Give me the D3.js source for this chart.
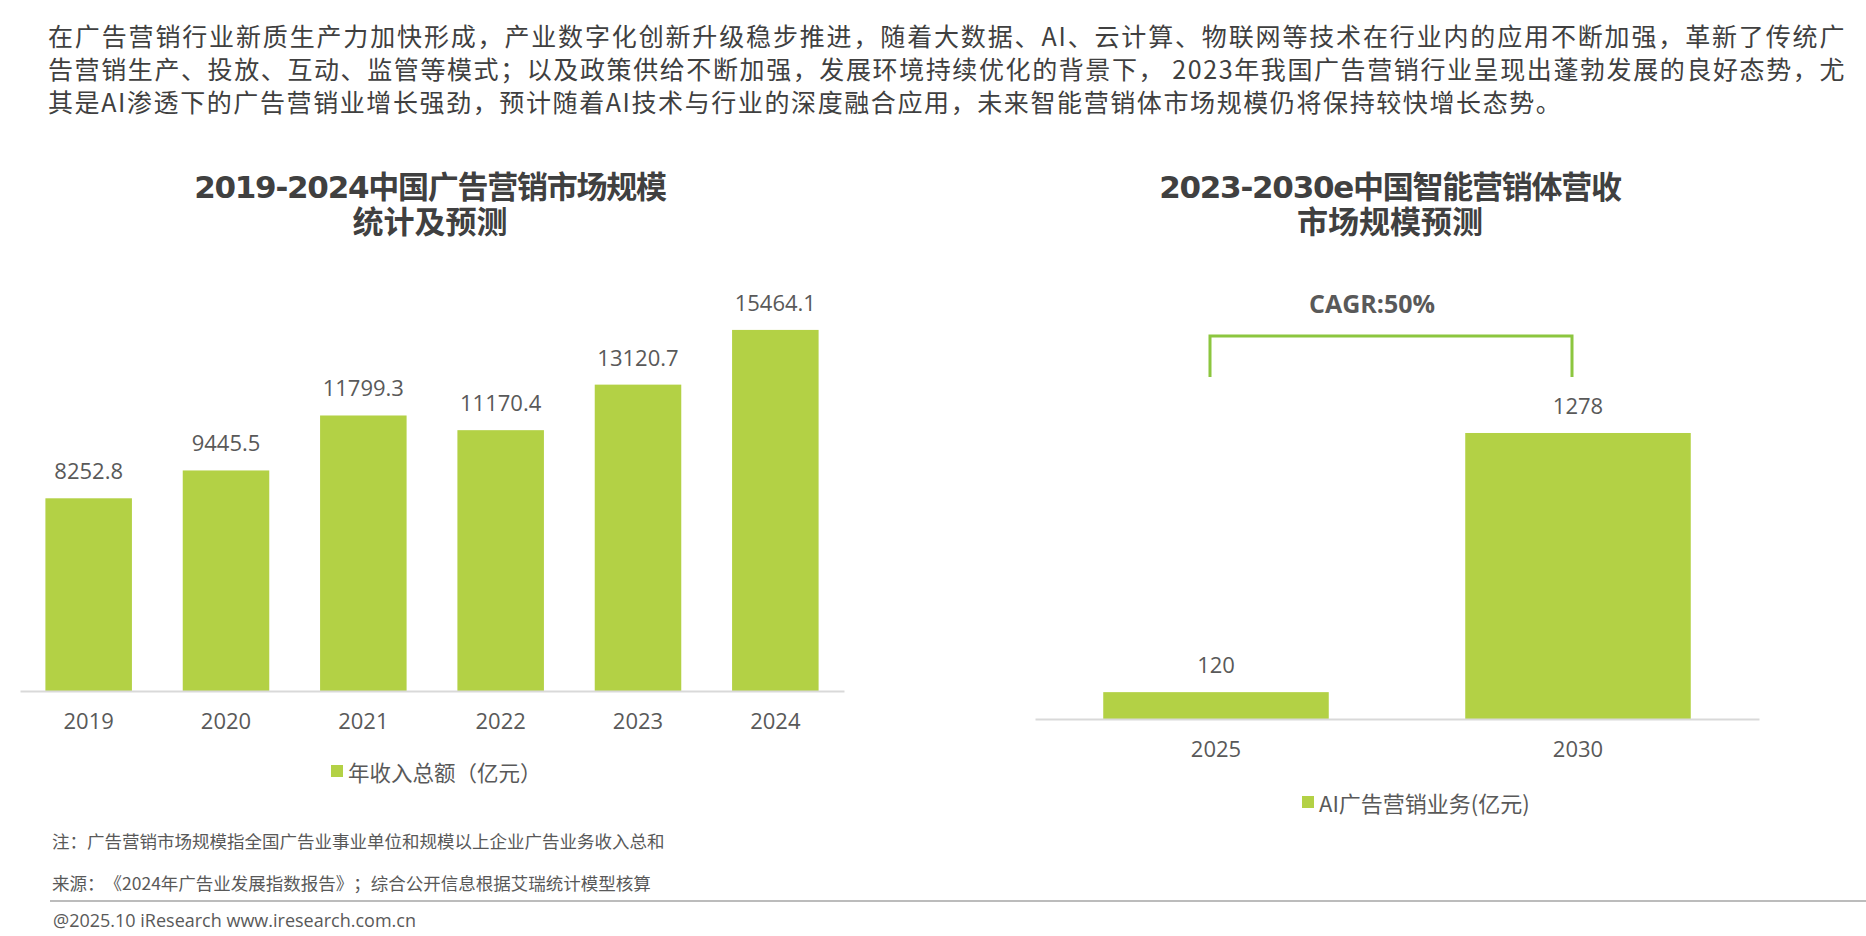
<!DOCTYPE html>
<html>
<head>
<meta charset="utf-8">
<script src="https://cdn.jsdelivr.net/npm/d3@7"></script>
<style>
  body { margin: 0; background: #fff; }
  svg { display: block; text-spacing-trim: space-all; }
</style>
</head>
<body>
<svg id="chart" width="1866" height="936"></svg>
<script>
// ---- data ----
const introLines = [
  "在广告营销行业新质生产力加快形成，产业数字化创新升级稳步推进，随着大数据、AI、云计算、物联网等技术在行业内的应用不断加强，革新了传统广",
  "告营销生产、投放、互动、监管等模式；以及政策供给不断加强，发展环境持续优化的背景下， 2023年我国广告营销行业呈现出蓬勃发展的良好态势，尤",
  "其是AI渗透下的广告营销业增长强劲，预计随着AI技术与行业的深度融合应用，未来智能营销体市场规模仍将保持较快增长态势。"
];
const marketTitle = ["2019-2024中国广告营销市场规模", "统计及预测"];
const marketYears = ["2019", "2020", "2021", "2022", "2023", "2024"];
const marketValues = [8252.8, 9445.5, 11799.3, 11170.4, 13120.7, 15464.1];
const marketLegend = "年收入总额（亿元）";

const aiTitle = ["2023-2030e中国智能营销体营收", "市场规模预测"];
const aiYears = ["2025", "2030"];
const aiValues = [120, 1278];
const aiLegend = "AI广告营销业务(亿元)";
const cagrLabel = "CAGR:50%";

const footNotes = [
  "注：广告营销市场规模指全国广告业事业单位和规模以上企业广告业务收入总和",
  "来源：《2024年广告业发展指数报告》；综合公开信息根据艾瑞统计模型核算"
];
const copyright = "@2025.10 iResearch www.iresearch.com.cn";

// ---- styles ----
const barColor = "#b3d145",
  bracketColor = "#8cc63f",
  axisColor = "#d9d9d9",
  titleColor = "#404040",
  labelColor = "#595959";
const cjk = "'Noto Sans CJK SC', sans-serif",
  num = "'Open Sans', 'Noto Sans CJK SC', sans-serif",
  titleFont = "'DejaVu Sans', 'Noto Sans CJK SC', sans-serif";

const svg = d3.select("#chart");

// intro paragraph, justified like the slide text box (last line left ragged)
const paraLeft = 48, paraRight = 1846;
svg.append("g")
  .selectAll("text")
  .data(introLines)
  .enter()
  .append("text")
  .attr("x", paraLeft)
  .attr("y", (d, i) => 35 + i * 33)
  .attr("dominant-baseline", "central")
  .attr("textLength", (d, i) => (i < introLines.length - 1 ? paraRight - paraLeft : null))
  .attr("lengthAdjust", "spacing")
  .style("font-family", cjk)
  .style("font-size", "25px")
  .style("letter-spacing", "1.6px")
  .style("fill", titleColor)
  .text((d) => d);

function drawPanel(opts) {
  const { years, values, title, titleX, legend, legendX, legendY, legendSize,
    left, right, base, yMax, top } = opts;

  const x = d3.scaleBand()
    .domain(years)
    .range([left, right])
    .paddingInner(opts.pad)
    .paddingOuter(opts.pad / 2);

  const y = d3.scaleLinear().domain([0, yMax]).range([base, top]);

  const g = svg.append("g");

  g.append("g")
    .selectAll("text")
    .data(title)
    .enter()
    .append("text")
    .attr("x", titleX)
    .attr("y", (d, i) => 187 + i * 35)
    .attr("text-anchor", "middle")
    .attr("dominant-baseline", "central")
    .style("font-family", titleFont)
    .style("font-weight", "bold")
    .style("font-size", "31px")
    .style("letter-spacing", (d, i) => (i === 0 ? "-1.25px" : "0px"))
    .style("fill", titleColor)
    .text((d) => d);

  g.append("g")
    .selectAll("rect")
    .data(values)
    .enter()
    .append("rect")
    .attr("x", (d, i) => x(years[i]))
    .attr("y", (d) => y(d))
    .attr("width", x.bandwidth())
    .attr("height", (d) => base - y(d))
    .attr("fill", barColor);

  g.append("g")
    .selectAll("text")
    .data(values)
    .enter()
    .append("text")
    .attr("x", (d, i) => x(years[i]) + x.bandwidth() / 2)
    .attr("y", (d) => y(d) - 19)
    .attr("text-anchor", "middle")
    .style("font-family", num)
    .style("font-size", "22px")
    .style("fill", labelColor)
    .text((d) => d);

  const axis = g.append("g")
    .attr("transform", "translate(0," + base + ")")
    .call(d3.axisBottom(x).tickSize(0).tickSizeOuter(0).tickPadding(22));
  axis.select(".domain").attr("stroke", axisColor).attr("stroke-width", 2);
  axis.selectAll("text")
    .style("font-family", num)
    .style("font-size", "22px")
    .style("fill", labelColor);

  const lg = g.append("g").attr("transform", "translate(" + legendX + "," + legendY + ")");
  lg.append("rect").attr("x", 0).attr("y", -6).attr("width", 12).attr("height", 12).attr("fill", barColor);
  lg.append("text")
    .attr("x", 17)
    .attr("y", 0)
    .attr("dominant-baseline", "central")
    .style("font-family", cjk)
    .style("font-size", legendSize)
    .style("fill", labelColor)
    .text(legend);

  return { x, y };
}

drawPanel({
  years: marketYears, values: marketValues, title: marketTitle, titleX: 430,
  legend: marketLegend, legendX: 331, legendY: 771, legendSize: "21.5px",
  left: 20, right: 844, base: 691, yMax: 16000, top: 691 - 16000 * 0.02335, pad: 0.37
});

const ai = drawPanel({
  years: aiYears, values: aiValues, title: aiTitle, titleX: 1390,
  legend: aiLegend, legendX: 1302, legendY: 802, legendSize: "22px",
  left: 1035, right: 1759, base: 719, yMax: 1400, top: 719 - 1400 * 0.2238, pad: 0.377
});

// CAGR bracket joining the two bars
const cx = aiYears.map((d) => ai.x(d) + ai.x.bandwidth() / 2 - 6);
svg.append("path")
  .attr("d", d3.line()([[cx[0], 377], [cx[0], 336], [cx[1], 336], [cx[1], 377]]))
  .attr("fill", "none")
  .attr("stroke", bracketColor)
  .attr("stroke-width", 3);
svg.append("text")
  .attr("x", 1372)
  .attr("y", 303)
  .attr("text-anchor", "middle")
  .attr("dominant-baseline", "central")
  .style("font-family", num)
  .style("font-weight", "bold")
  .style("font-size", "25px")
  .style("fill", labelColor)
  .text(cagrLabel);

// footer
svg.append("g")
  .selectAll("text")
  .data(footNotes)
  .enter()
  .append("text")
  .attr("x", 52)
  .attr("y", (d, i) => 840 + i * 42)
  .attr("dominant-baseline", "central")
  .style("font-family", cjk)
  .style("font-size", "17.5px")
  .style("fill", labelColor)
  .text((d) => d);

svg.append("line")
  .attr("x1", 50).attr("x2", 1866)
  .attr("y1", 901).attr("y2", 901)
  .attr("stroke", "#a6a6a6")
  .attr("stroke-width", 1.5);

svg.append("text")
  .attr("x", 53)
  .attr("y", 920)
  .attr("dominant-baseline", "central")
  .style("font-family", num)
  .style("font-size", "18px")
  .style("fill", labelColor)
  .text(copyright);
</script>
</body>
</html>
